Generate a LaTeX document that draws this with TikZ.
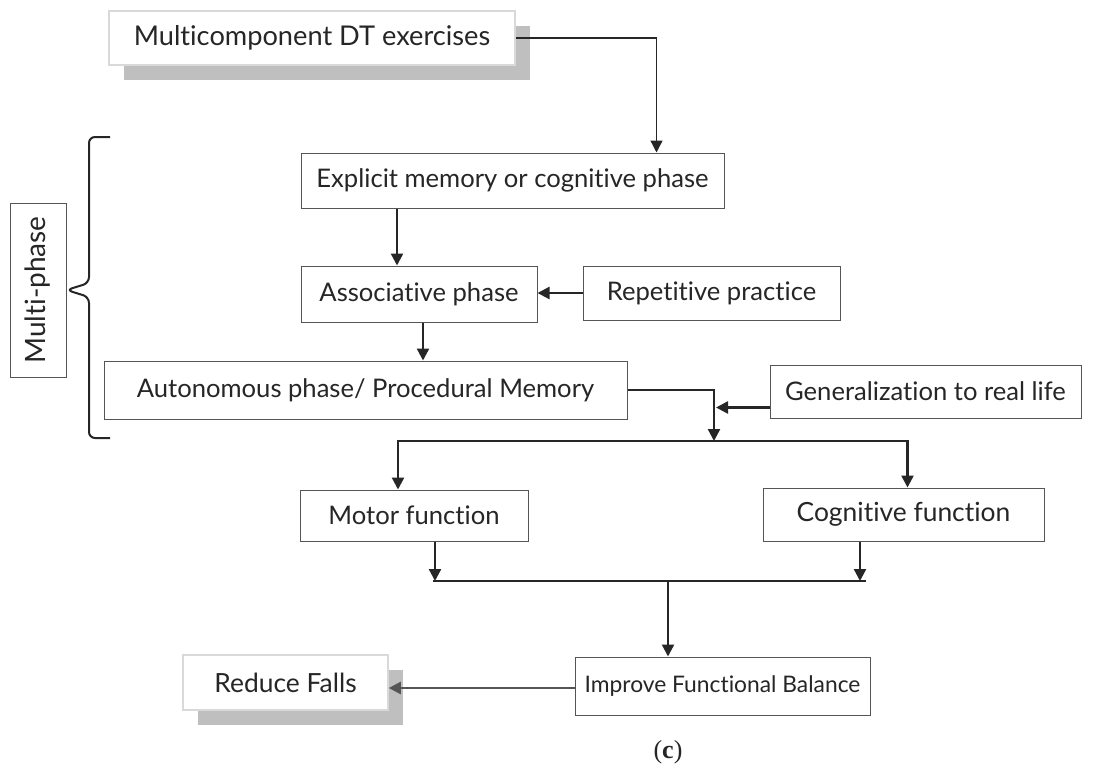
\documentclass[tikz,border=0pt]{standalone}
\usepackage{fontspec}
\setmainfont{Lato}[Ligatures=NoCommon]
\newfontfamily\capfont{Liberation Serif}
\usetikzlibrary{arrows.meta,shadows}
\definecolor{ink}{HTML}{262626}
\definecolor{frame}{HTML}{555555}
\definecolor{shade}{HTML}{BFBFBF}
\newcommand\fs[1]{\fontsize{#1}{#1}\selectfont}
\begin{document}
\begin{tikzpicture}[x=0.5pt, y=-0.5pt, >={Triangle[width=6pt,length=6pt]},
    box/.style={draw=frame, line width=0.5pt, fill=white, text=ink, inner sep=0pt,
      font=\fs{12.8}},
    size/.style 2 args={minimum width=#1*0.5pt, minimum height=#2*0.5pt},
    shbox/.style={box, draw=shade!60, line width=0.8pt,
      drop shadow={shadow xshift=7.5pt, shadow yshift=-7.5pt, fill=shade, opacity=1}},
    arr/.style={->, draw=ink, line width=1.2pt},
    link/.style={draw=ink, line width=1.2pt}]
  \useasboundingbox (0,0) rectangle (1113,776);
  \node[shbox, size={406}{54}, font=\fs{13.6}] (multi) at (312,38) {Multicomponent DT exercises};
  \node[box, size={423}{55}] (explicit) at (512.5,180.5) {Explicit memory or cognitive phase};
  \node[box, size={236}{56}] (assoc) at (419,294) {Associative phase};
  \node[box, size={257}{54}] (repet) at (711.5,293) {Repetitive practice};
  \node[box, size={523}{58}] (auton) at (365.5,390) {Autonomous phase/ Procedural Memory};
  \node[box, size={311}{53}] (general) at (925.5,391.5) {Generalization to real life};
  \node[box, size={228}{51}] (motor) at (414,515.5) {Motor function};
  \node[box, size={281}{53}, font=\fs{13.2}] (cognit) at (903.5,514.5) {Cognitive function};
  \node[box, size={295}{58}, font=\fs{11.4}] (improve) at (722.5,686) {Improve Functional Balance};
  \node[shbox, size={205}{55}, font=\fs{13.2}] (reduce) at (285.5,682.5) {Reduce Falls};
  \node[box, rotate=90, size={174}{56}, font=\fs{14}] (phase) at (38,290) {Multi-phase};
  \node[text=ink, font=\capfont\fs{13}] (tag) at (668,752) {(\textbf{c})};
  \coordinate (split) at (714,441);
  \coordinate (merge) at (668,581);
  \draw[ink, line width=1pt, rounded corners=3pt]
    (110,137) -- (89,137) -- (89,283) -- (phase.south) -- (89,297) -- (89,438) -- (110,438);
  \draw[arr, line width=0.7pt] (multi.east) -| ([xshift=72pt]explicit.north);
  \draw[arr] ([xshift=-11pt]assoc.north |- explicit.south) -- ([xshift=-11pt]assoc.north);
  \draw[arr] (repet.west) -- (repet.west -| assoc.east);
  \draw[arr] ([xshift=2pt]assoc.south) -- ([xshift=2pt]assoc.south |- auton.north);
  \draw[arr] (auton.east) -| (split);
  \draw[arr] ([yshift=-8pt]general.west) -- ([yshift=-8pt,xshift=1pt]general.west -| split);
  \draw[<->, link] ([xshift=-8pt]motor.north) |- (split) -| ([xshift=2pt]cognit.north);
  \draw[arr] ([xshift=10.5pt]motor.south) -- ([xshift=10.5pt]motor.south |- merge);
  \draw[arr] ([xshift=-21.75pt]cognit.south) -- ([xshift=-21.75pt]cognit.south |- merge);
  \draw[link] ([xshift=9.5pt]motor.south |- merge) -- ([xshift=-19pt]cognit.south |- merge);
  \draw[arr] (merge) -- (merge |- improve.north);
  \draw[arr, draw=frame] ([yshift=-1pt]improve.west) -- ([yshift=-1pt]improve.west -| reduce.east);
\end{tikzpicture}
\end{document}
